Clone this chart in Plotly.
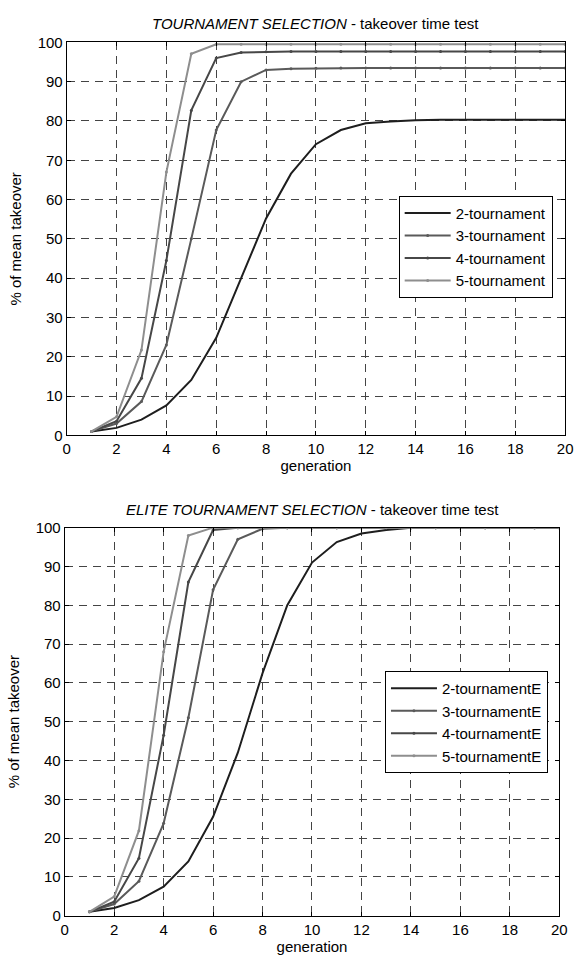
import plotly.graph_objects as go

generation = list(range(1, 21))

# Tournament selection (top)
t2 = [1.0, 1.9, 4.0, 7.6, 14.1, 24.8, 40.0, 55.2, 66.6, 74.1, 77.7, 79.4, 79.9, 80.2, 80.3, 80.3, 80.3, 80.3, 80.3, 80.3]
t3 = [1.0, 3.0, 8.6, 23.0, 50.0, 77.7, 90.0, 93.0, 93.3, 93.4, 93.5, 93.5, 93.5, 93.5, 93.5, 93.5, 93.5, 93.5, 93.5, 93.5]
t4 = [1.0, 3.6, 14.5, 44.5, 82.7, 96.0, 97.4, 97.6, 97.7, 97.7, 97.7, 97.7, 97.7, 97.7, 97.7, 97.7, 97.7, 97.7, 97.7, 97.7]
t5 = [1.0, 4.7, 21.7, 67.0, 97.1, 99.5, 99.5, 99.5, 99.5, 99.5, 99.5, 99.5, 99.5, 99.5, 99.5, 99.5, 99.5, 99.5, 99.5, 99.5]

# Elite tournament selection (bottom)
e2 = [1.0, 2.0, 4.0, 7.5, 14.0, 25.5, 42.0, 62.5, 80.0, 91.0, 96.3, 98.5, 99.4, 100, 100, 100, 100, 100, 100, 100]
e3 = [1.0, 3.0, 8.9, 23.8, 51.0, 84.0, 97.0, 99.7, 100, 100, 100, 100, 100, 100, 100, 100, 100, 100, 100, 100]
e4 = [1.0, 3.6, 14.8, 46.5, 86.0, 99.4, 100, 100, 100, 100, 100, 100, 100, 100, 100, 100, 100, 100, 100, 100]
e5 = [1.0, 4.9, 21.9, 68.0, 98.0, 100, 100, 100, 100, 100, 100, 100, 100, 100, 100, 100, 100, 100, 100, 100]

top_names = ["2-tournament", "3-tournament", "4-tournament", "5-tournament"]
bot_names = ["2-tournamentE", "3-tournamentE", "4-tournamentE", "5-tournamentE"]
colors = ["#1e1e1e", "#5a5a5a", "#474747", "#8e8e8e"]
has_marker = [False, True, True, True]

x_ticks = list(range(0, 21, 2))
y_ticks = list(range(0, 101, 10))

FONT = "Liberation Sans, Arial, sans-serif"
FS = 15
fig = go.Figure()

for name, ys, c, m in zip(top_names, [t2, t3, t4, t5], colors, has_marker):
    fig.add_trace(go.Scatter(
        x=generation, y=ys, name=name, xaxis="x", yaxis="y",
        mode="lines+markers" if m else "lines",
        line=dict(color=c, width=2),
        marker=dict(size=3, color=c),
        legend="legend",
    ))
for name, ys, c, m in zip(bot_names, [e2, e3, e4, e5], colors, has_marker):
    fig.add_trace(go.Scatter(
        x=generation, y=ys, name=name, xaxis="x2", yaxis="y2",
        mode="lines+markers" if m else "lines",
        line=dict(color=c, width=2),
        marker=dict(size=3, color=c),
        legend="legend2",
    ))

W, H = 581, 962

def axis_common():
    return dict(
        showline=True, linecolor="black", linewidth=1, mirror="ticks",
        ticks="inside", ticklen=4, tickcolor="black",
        showgrid=True, gridcolor="#444444", gridwidth=1, griddash="8px,6px",
        zeroline=False, tickfont=dict(size=FS, color="black", family=FONT),
    )

xa = axis_common(); xa.update(range=[0, 20], tickvals=x_ticks, domain=[64 / W, 573 / W], anchor="y",
                               title=dict(text="generation", font=dict(size=FS, family=FONT), standoff=0))
ya = axis_common(); ya.update(range=[0, 100], tickvals=y_ticks, domain=[(H - 434) / H, (H - 34) / H], anchor="x",
                               title=dict(text="% of mean takeover", font=dict(size=FS, family=FONT), standoff=12))
xa2 = axis_common(); xa2.update(range=[0, 20], tickvals=x_ticks, domain=[62 / W, 567 / W], anchor="y2",
                                 title=dict(text="generation", font=dict(size=FS, family=FONT), standoff=0))
ya2 = axis_common(); ya2.update(range=[0, 100], tickvals=y_ticks, domain=[(H - 923) / H, (H - 528) / H], anchor="x2",
                                 title=dict(text="% of mean takeover", font=dict(size=FS, family=FONT), standoff=12))

legend_common = dict(
    bgcolor="white", bordercolor="black", borderwidth=1,
    font=dict(size=FS, color="black", family=FONT),
    xanchor="left", yanchor="top", tracegroupgap=0, itemwidth=46,
)

fig.update_layout(
    width=W, height=H,
    margin=dict(l=0, r=0, t=0, b=0),
    paper_bgcolor="white", plot_bgcolor="white",
    font=dict(family=FONT, size=FS, color="black"),
    xaxis=xa, yaxis=ya, xaxis2=xa2, yaxis2=ya2,
    legend=dict(x=403 / W, y=1 - 190 / H, **legend_common),
    legend2=dict(x=389 / W, y=1 - 674 / H, **legend_common),
    annotations=[
        dict(text="<i>TOURNAMENT SELECTION</i> - takeover time test", xref="paper", yref="paper",
             x=(64 + 573) / 2 / W, y=1 - 15 / H, xanchor="center", yanchor="middle",
             showarrow=False, font=dict(size=FS, family=FONT, color="black")),
        dict(text="<i>ELITE TOURNAMENT SELECTION</i> - takeover time test", xref="paper", yref="paper",
             x=(62 + 567) / 2 / W, y=1 - 509 / H, xanchor="center", yanchor="middle",
             showarrow=False, font=dict(size=FS, family=FONT, color="black")),
    ],
    showlegend=True,
)

fig.write_html("out.html")
